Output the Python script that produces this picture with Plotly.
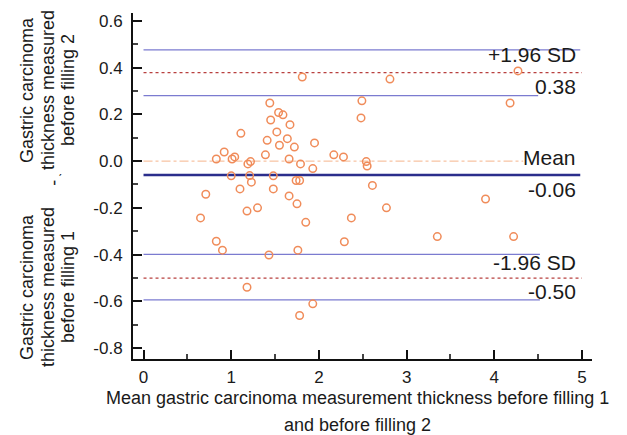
import plotly.graph_objects as go

# Scatter data: mean of the two measurements (x) and difference (y)
mean_thickness = [1.81, 1.44, 1.54, 1.59, 1.45, 1.67, 1.11, 1.52, 1.64, 1.41,
                  1.95, 1.55, 1.72, 0.92, 1.39, 1.04, 0.83, 1.01, 1.22, 1.19,
                  1.66, 1.79, 1.93, 1.00, 1.21, 1.48, 1.23, 1.74, 1.78, 1.10,
                  1.48, 0.71, 1.66, 1.75, 1.18, 1.30, 0.65, 1.85, 0.83, 0.90,
                  1.76, 1.43, 1.18, 1.93, 1.78, 4.27, 2.81, 2.49, 4.18, 2.48,
                  2.17, 2.28, 2.54, 2.55, 2.61, 3.90, 2.77, 2.37, 2.29, 3.35,
                  4.22]
difference = [0.360, 0.249, 0.208, 0.198, 0.176, 0.156, 0.119, 0.125, 0.096, 0.089,
              0.078, 0.068, 0.060, 0.039, 0.027, 0.018, 0.009, 0.009, -0.002, -0.012,
              0.009, -0.012, -0.032, -0.063, -0.062, -0.063, -0.090, -0.083, -0.083, -0.119,
              -0.119, -0.142, -0.149, -0.183, -0.214, -0.200, -0.243, -0.262, -0.343, -0.381,
              -0.381, -0.402, -0.540, -0.611, -0.661, 0.386, 0.351, 0.258, 0.249, 0.185,
              0.027, 0.018, -0.002, -0.021, -0.104, -0.162, -0.200, -0.243, -0.345, -0.323,
              -0.323]

# Reference lines
zero_line = 0.0
mean_diff = -0.059
upper_loa = 0.379
lower_loa = -0.501
upper_loa_ci = [0.280, 0.476]
lower_loa_ci = [-0.594, -0.399]

# Right-hand labels
label_texts = ["+1.96 SD", "0.38", "Mean", "-0.06", "-1.96 SD", "-0.50"]
label_y = [0.455, 0.318, 0.014, -0.123, -0.434, -0.559]

y_tick_vals = [0.6, 0.4, 0.2, 0.0, -0.2, -0.4, -0.6, -0.8]
y_tick_text = ["0.6", "0.4", "0.2", "0.0", "-0.2", "-0.4", "-0.6", "-0.8"]
x_tick_vals = [0, 1, 2, 3, 4, 5]

FONT = "Liberation Sans, Arial, sans-serif"
TXT = "#1a1a1a"
ORANGE = "#F08C5A"
LIGHT_BLUE = "#7B7BD0"
NAVY = "#2B2E8C"
RED = "#B8403F"

fig = go.Figure()
fig.add_trace(go.Scatter(
    x=mean_thickness, y=difference, mode="markers",
    marker=dict(symbol="circle-open", size=7.5, color=ORANGE, line=dict(width=1.5, color=ORANGE)),
    showlegend=False, hoverinfo="skip"))

shapes = []
def hline(y, x1, color, width, dash="solid"):
    shapes.append(dict(type="line", xref="x", yref="y", x0=0, x1=x1, y0=y, y1=y,
                       line=dict(color=color, width=width, dash=dash), layer="below"))

hline(zero_line, 4.33, "#F5B48C", 1, "dashdot")
hline(upper_loa_ci[1], 4.98, LIGHT_BLUE, 1.3)
hline(upper_loa_ci[0], 4.50, LIGHT_BLUE, 1.3)
hline(lower_loa_ci[1], 4.52, LIGHT_BLUE, 1.3)
hline(lower_loa_ci[0], 4.52, LIGHT_BLUE, 1.3)
hline(upper_loa, 5.0, RED, 1.2, "dot")
hline(lower_loa, 5.0, RED, 1.2, "dot")
hline(mean_diff, 4.98, NAVY, 2.5)

annotations = []
for t, y in zip(label_texts, label_y):
    annotations.append(dict(x=4.955, y=y, xref="x", yref="y", text=t, showarrow=False,
                            xanchor="right", yanchor="middle",
                            font=dict(family=FONT, size=21, color=TXT)))

# x-axis title (two lines)
for t, py in [("Mean gastric carcinoma measurement thickness before filling 1", -0.1127),
              ("and before filling 2", -0.1908)]:
    annotations.append(dict(x=0.49, y=py, xref="paper", yref="paper", text=t, showarrow=False,
                            xanchor="center", yanchor="middle",
                            font=dict(family=FONT, size=18, color=TXT)))

# y-axis title (two rotated blocks)
y_upper = ["Gastric carcinoma", "thickness measured", "before filling 2"]
y_lower = ["Gastric carcinoma", "thickness measured", "before filling 1"]
line_x = [-0.2309, -0.1852, -0.1416]
for lines, cy in [(y_upper, 0.7775), (y_lower, 0.2081)]:
    for t, lx in zip(lines, line_x):
        annotations.append(dict(x=lx, y=cy, xref="paper", yref="paper", text=t, showarrow=False,
                                textangle=-90, xanchor="center", yanchor="middle",
                                font=dict(family=FONT, size=18, color=TXT)))
annotations.append(dict(x=-0.174, y=0.51, xref="paper", yref="paper", text="-", showarrow=False,
                        textangle=-90, xanchor="center", yanchor="middle",
                        font=dict(family=FONT, size=18, color=TXT)))
annotations.append(dict(x=-0.158, y=0.548, xref="paper", yref="paper", text="\u02cf", showarrow=False,
                        xanchor="center", yanchor="middle",
                        font=dict(family=FONT, size=12, color=TXT)))

fig.update_layout(
    width=627, height=435,
    margin=dict(l=133, r=35, t=13, b=76),
    paper_bgcolor="white", plot_bgcolor="white",
    shapes=shapes, annotations=annotations,
    font=dict(family=FONT, color=TXT),
    xaxis=dict(range=[-0.12, 5.114], tickvals=x_tick_vals, showgrid=False, zeroline=False,
               showline=True, linecolor="#111", linewidth=2,
               ticks="inside", ticklen=9, tickwidth=2, tickcolor="#111",
               tickfont=dict(family=FONT, size=17, color=TXT), ticklabelstandoff=2,
               minor=dict(ticks="inside", ticklen=5, tickwidth=1.5, tickcolor="#444", dtick=0.5, showgrid=False)),
    yaxis=dict(range=[-0.847, 0.634], tickvals=y_tick_vals, ticktext=y_tick_text, showgrid=False,
               zeroline=False, showline=True, linecolor="#111", linewidth=2,
               ticks="inside", ticklen=9, tickwidth=2, tickcolor="#111",
               tickfont=dict(family=FONT, size=17, color=TXT), ticklabelstandoff=5,
               minor=dict(ticks="inside", ticklen=5, tickwidth=1.5, tickcolor="#444", dtick=0.1, showgrid=False)),
)

fig.write_html("out.html")
